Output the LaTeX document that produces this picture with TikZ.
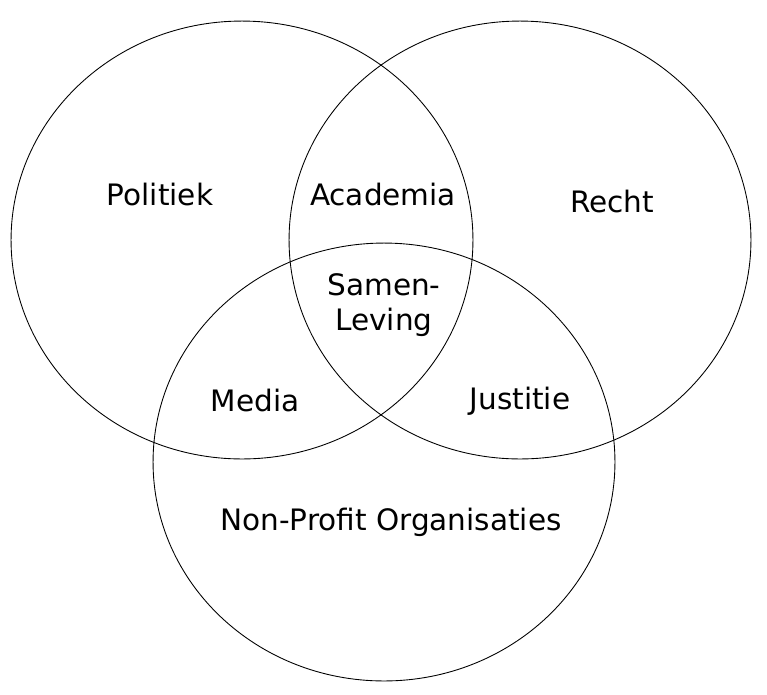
\documentclass[tikz,border=0pt]{standalone}
\usepackage{fontspec}
\setmainfont{DejaVu Sans}
\usetikzlibrary{shapes.geometric}

\begin{document}
\begin{tikzpicture}[x=0.02cm, y=-0.02cm]
        \tikzstyle{field} = [draw, ellipse, line width=0.5pt, minimum width=9.24cm, minimum height=8.76cm, inner sep=0pt]
        \tikzstyle{lbl} = [align=center, font=\fontsize{16.8}{19.8}\selectfont]

        \useasboundingbox (0,0) rectangle (767,694);

        % De drie cirkels
        \node [field] (links) at (242,240) {};
        \node [field] (rechts) at (520,240) {};
        \node [field] (onder) at (384,462) {};

        % Teksten
        \node [lbl] (politiek) at (160,194) {Politiek};
        \node [lbl] (academia) at (383,194) {Academia};
        \node [lbl] (recht) at (612,201) {Recht};
        \node [lbl] (samenleving) at (384,305) {Samen-\\Leving};
        \node [lbl] (media) at (255,400) {Media};
        \node [lbl] (justitie) at (520,401) {Justitie};
        \node [lbl] (npo) at (391,522) {Non-Profit Organisaties};

\end{tikzpicture}
\end{document}
